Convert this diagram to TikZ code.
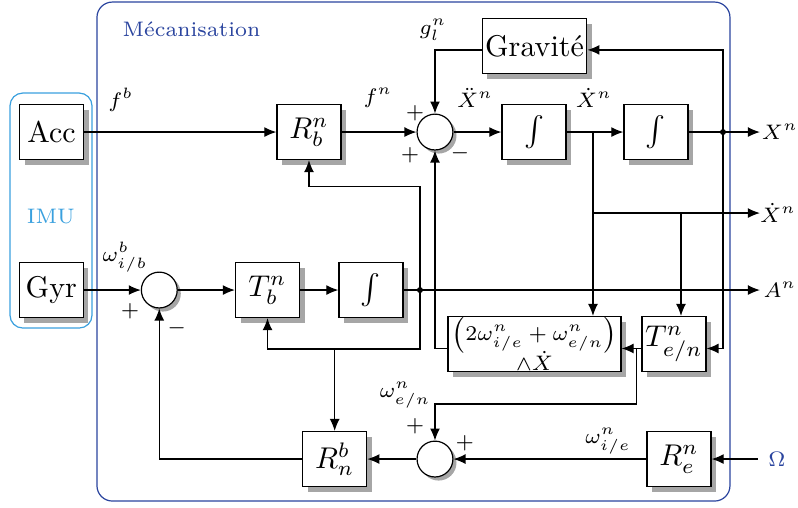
\documentclass[tikz,border=0pt]{standalone}
\usetikzlibrary{arrows.meta,shadows}

\definecolor{mecablue}{RGB}{42,68,158}
\definecolor{imublue}{RGB}{58,160,222}

\begin{document}
\begin{tikzpicture}[
    >={Latex[length=4pt,width=3.3pt]},
    block/.style={draw, fill=white, inner sep=1pt,
        minimum width=0.75cm, minimum height=0.644cm,
        drop shadow={shadow xshift=1.7pt, shadow yshift=-1.7pt, fill=black!35, opacity=1}},
    sumnode/.style={draw, circle, fill=white, minimum size=0.42cm, inner sep=0pt,
        drop shadow={shadow xshift=1.2pt, shadow yshift=-1.2pt, fill=black!35, opacity=1}},
    lbl/.style={font=\scriptsize, inner sep=0pt}
]

    \useasboundingbox (0,0) rectangle (9.349,5.940);

    % Frames of the sensor unit and of the mechanisation
    \draw[imublue, rounded corners=0.15cm] (0.117,2.097) rectangle (1.078,4.850);
    \draw[mecablue, rounded corners=0.18cm] (1.136,0.070) rectangle (8.552,5.916);
    \node[lbl, text=mecablue, anchor=west] (meca) at (1.429,5.600) {Mécanisation};
    \node[lbl, text=imublue] (imu) at (0.597,3.409) {IMU};

    % Blocks
    \foreach \name/\x/\y/\txt in {acc/0.603/4.393/Acc, gyr/0.601/2.542/Gyr,
        rbn/3.620/4.393/{$R_b^n$}, int1/6.256/4.393/{$\int$}, int2/7.685/4.393/{$\int$},
        grav/6.262/5.401/Gravité, tbn/3.134/2.542/{$T_b^n$}, int3/4.346/2.542/{$\int$},
        ten/7.896/1.910/{$T^n_{e/n}$}, ren/7.955/0.562/{$R_e^n$}, rnb/3.921/0.562/{$R_n^b$}} {
        \node[block] (\name) at (\x,\y) {\txt};
    }
    \node[block, inner sep=0pt, minimum width=2.027cm, font=\scriptsize, align=center] (cross)
        at (6.262,1.910) {$\left(2\omega^n_{i/e}+\omega^n_{e/n}\right)$\\[-1.5pt]$\wedge\dot{X}$};

    % Summing junctions
    \node[sumnode] (sum0) at (1.866,2.542) {};
    \node[sumnode] (sum1) at (5.096,4.393) {};
    \node[sumnode] (sum2) at (5.096,0.562) {};

    \node[font=\scriptsize, text=mecablue] (omega) at (9.103,0.562) {$\Omega$};

    % Signs at the junctions
    \foreach \name/\x/\y/\s in {pa/4.862/4.616/+, pb/4.803/4.124/+, ma/5.389/4.147/-,
        pc/1.523/2.296/+, mb/2.070/2.097/-, pd/4.862/0.941/+, pe/5.447/0.753/+} {
        \node[lbl] (\name) at (\x,\y) {$\s$};
    }

    % Output points
    \coordinate (dX) at (8.470,4.393);
    \coordinate (outX) at (8.903,4.393);
    \coordinate (bX) at (6.947,4.393);
    \coordinate (bXd) at (6.947,3.444);
    \coordinate (bV) at (7.978,3.444);
    \coordinate (outV) at (8.903,3.444);
    \coordinate (dA) at (4.920,2.542);
    \coordinate (outA) at (8.903,2.542);

    % Specific force to position
    \draw[->] (acc.east) -- (rbn.west);
    \draw[->] (rbn.east) -- (sum1.west);
    \draw[->] (sum1.east) -- (int1.west);
    \draw[->] (int1.east) -- (int2.west);
    \draw[->] (int2.east) -- (outX);
    \fill (dX) circle (1pt);
    \draw[->] (dX) |- ([yshift=-1.3pt]grav.east);
    \draw[->] ([yshift=-1.3pt]grav.west) -| (sum1.north);
    \draw[->] (dX) |- ([yshift=-1.5pt]ten.east);

    % Velocity branch
    \draw (bX) -- (bXd);
    \draw[->] (bXd) -- (outV);
    \draw[->] (bXd) -- (bXd |- cross.north);
    \draw[->] (bV) -- (bV |- ten.north);

    % Angular rate to attitude
    \draw[->] (gyr.east) -- (sum0.west);
    \draw[->] (sum0.east) -- (tbn.west);
    \draw[->] (tbn.east) -- (int3.west);
    \draw (int3.east) -- (dA);
    \draw[->] (dA) -- (outA);
    \fill (dA) circle (1pt);
    \draw[->] (dA) -- ++(0,1.210) -| (rbn.south);
    \draw[->] (dA) -- ++(0,-0.691) coordinate (dB) -| (tbn.south);
    \draw[->] (dB -| rnb.north) -- (rnb.north);

    % Coriolis and transport rate
    \draw[->] ([yshift=-1.5pt]cross.west) -| (sum1.south);
    \draw[->] ([yshift=-1.5pt]ten.west) -- ([yshift=-1.5pt]cross.east);
    \draw[->] ([xshift=-0.059cm,yshift=-1.5pt]ten.west) -- ++(0,-0.650) -| (sum2.north);
    \draw[->] (omega.west) -- (ren.east);
    \draw[->] (ren.west) -- (sum2.east);
    \draw[->] (sum2.west) -- (rnb.east);
    \draw[->] (rnb.west) -| (sum0.south);

    % Signal labels
    \node[lbl] (lfb) at (1.415,4.768) {$f^b$};
    \node[lbl] (lfn) at (4.428,4.791) {$f^n$};
    \node[lbl] (lg) at (5.073,5.588) {$g_l^n$};
    \node[lbl] (lacc) at (5.565,4.791) {$\ddot{X}^n$};
    \node[lbl] (lvel) at (6.959,4.791) {$\dot{X}^n$};
    \node[lbl] (lX) at (9.138,4.393) {$X^n$};
    \node[lbl] (lV) at (9.115,3.444) {$\dot{X}^n$};
    \node[lbl] (lA) at (9.138,2.542) {$A^n$};
    \node[lbl] (lwib) at (1.464,2.929) {$\omega^b_{i/b}$};
    \node[lbl] (lwen) at (4.745,1.312) {$\omega^n_{e/n}$};
    \node[lbl] (lwie) at (7.123,0.773) {$\omega^n_{i/e}$};

\end{tikzpicture}
\end{document}
